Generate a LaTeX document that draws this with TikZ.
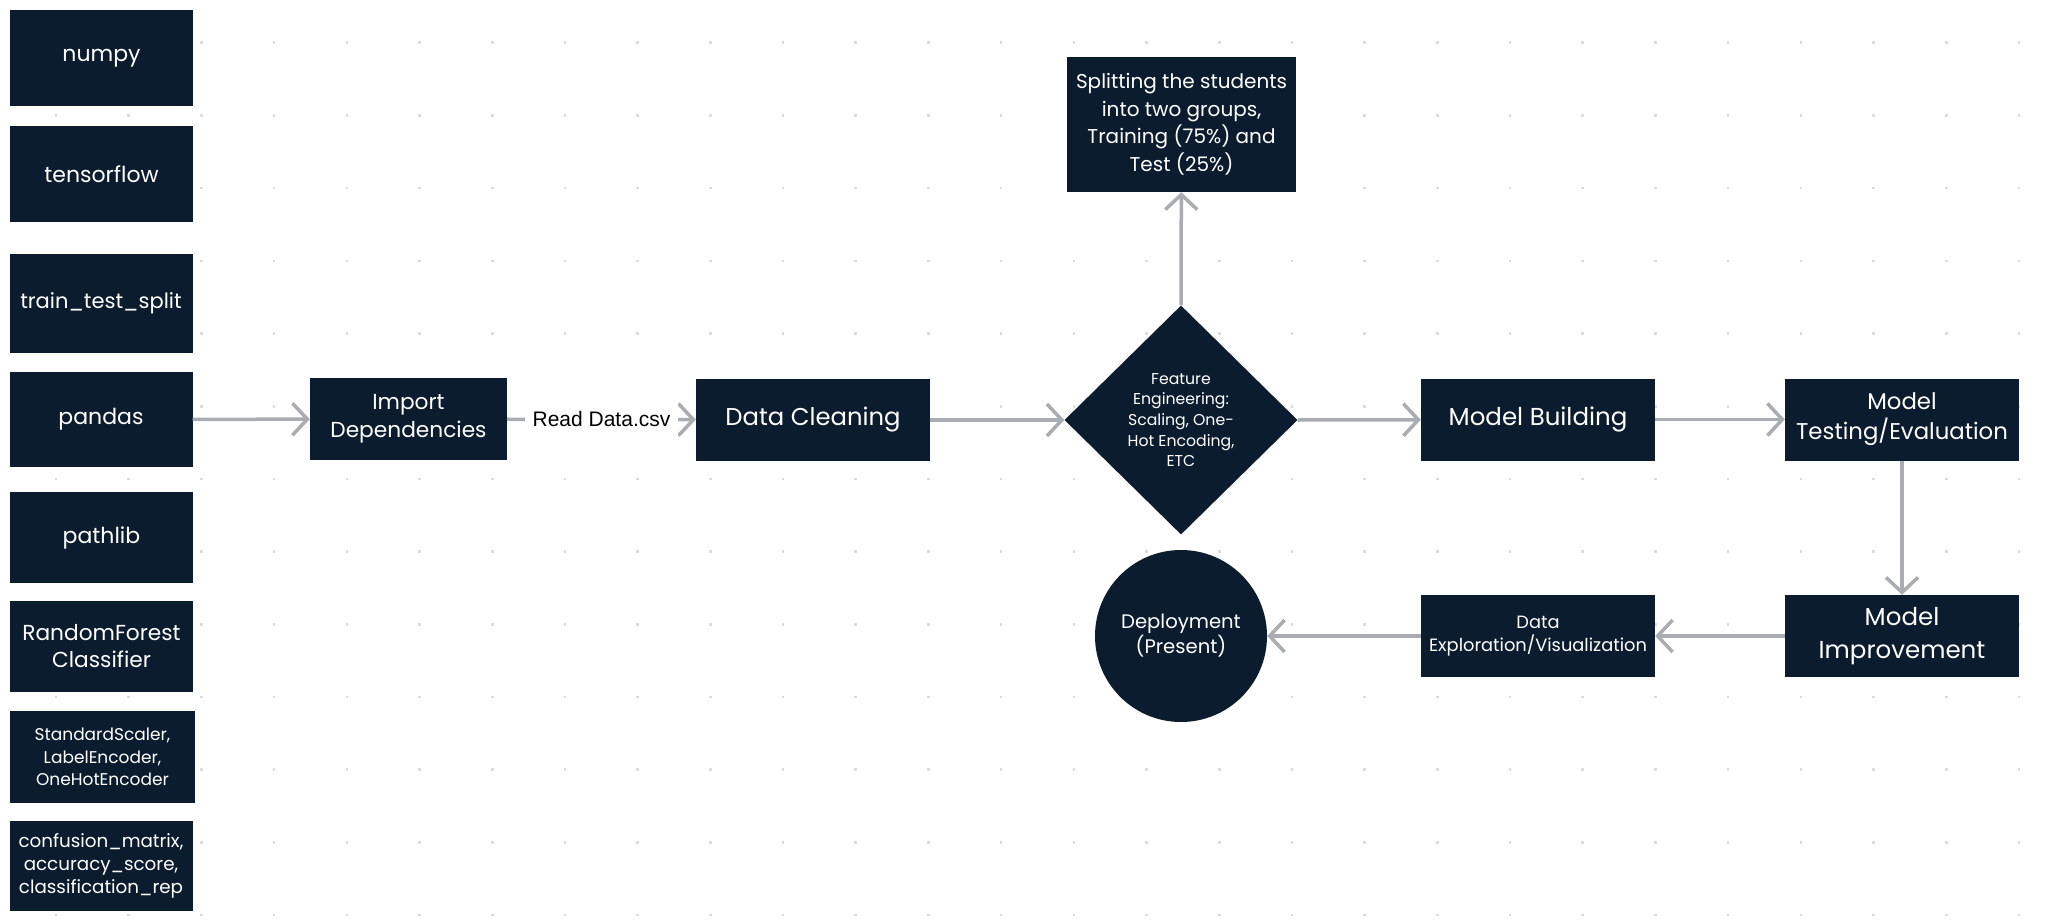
\documentclass[tikz,border=0pt]{standalone}
\usepackage{fontspec}
\setmainfont{Poppins}
\newfontfamily\arialfont{Liberation Sans}
\usetikzlibrary{arrows.meta,shapes.geometric}
\definecolor{boxfill}{HTML}{0B1C2F}
\definecolor{arrowgray}{HTML}{A9ADB1}
\definecolor{dotgray}{HTML}{DCDCDC}
\newcommand{\fs}[2]{\fontsize{#1}{#2}\selectfont}
\begin{document}
\begin{tikzpicture}[x=1pt,y=-1pt,
  box/.style={rectangle, fill=boxfill, text=white, align=center, inner sep=0pt},
  lib/.style={box, minimum width=183pt},
  flow/.style={box, minimum width=234pt, minimum height=82pt},
  conn/.style={draw=arrowgray, line width=3.5pt, -{Straight Barb[length=15pt,width=32pt]}},
]
\useasboundingbox (0,0) rectangle (2048,923);
\fill[white] (0,0) rectangle (2048,923);
\foreach \i in {0,...,27} {
  \foreach \j in {0,...,12} {
    \fill[dotgray] ({56+72.7*\i-1.3},{42.7+72.7*\j-1.3}) rectangle +(2.6,2.6);
  }
}
% library column
\node[lib, minimum height=96pt, font=\fs{22}{28}] (numpy) at (101.5,58) {numpy};
\node[lib, minimum height=96pt, font=\fs{22}{28}] (tf) at (101.5,174) {tensorflow};
\node[lib, minimum height=99pt, font=\fs{21}{27}] (tts) at (101,303.5) {train\_test\_split};
\node[lib, minimum height=95pt, font=\fs{22}{28}] (pandas) at (101,419.5) {pandas};
\node[lib, minimum height=91pt, font=\fs{22}{28}] (pathlib) at (101.5,537.5) {pathlib};
\node[lib, minimum height=91pt, font=\fs{21.7}{27}] (rf) at (101.5,646.5) {RandomForest\\Classifier};
\node[lib, minimum width=185pt, minimum height=92pt, font=\fs{17}{22.5}] (sk) at (102.5,757) {StandardScaler,\\LabelEncoder,\\OneHotEncoder};
\node[lib, minimum height=90pt, font=\fs{18.3}{23}] (metrics) at (101,866) {confusion\_matrix,\\accuracy\_score,\\classification\_rep};
% flow
\node[box, minimum width=197pt, minimum height=82pt, font=\fs{21.7}{28}] (imp) at (408.5,419) {Import\\Dependencies};
\node[flow, font=\fs{24.3}{30}] (dc) at (813,420) {Data Cleaning};
\node[diamond, fill=boxfill, minimum width=233pt, minimum height=229pt, inner sep=0pt] (fe) at (1181,420) {};
\node[text=white, align=center, font=\fs{15.7}{20.7}] (fetext) at (fe.center) {Feature\\Engineering:\\Scaling, One-\\Hot Encoding,\\ETC};
\node[box, minimum width=229pt, minimum height=135pt, font=\fs{20}{27.5}] (split) at (1181.5,124.5) {Splitting the students\\into two groups,\\Training (75\%) and\\Test (25\%)};
\node[flow, font=\fs{24.5}{30}] (mb) at (1538,419.5) {Model Building};
\node[flow, font=\fs{22.8}{30}] (mt) at (1902,419.5) {Model\\Testing/Evaluation};
\node[flow, font=\fs{24.5}{33}] (mi) at (1902,636) {Model\\Improvement};
\node[flow, font=\fs{17.8}{22.5}] (de) at (1538,636) {Data\\Exploration/Visualization};
\node[circle, fill=boxfill, text=white, align=center, minimum size=172pt, inner sep=0pt, font=\fs{19.6}{25}] (dep) at (1181,636) {Deployment\\(Present)};
% connectors
\draw[conn] (pandas) -- (imp);
\draw[conn] (imp) -- node[fill=white, inner sep=8pt, font=\arialfont\fs{21}{25}] (readlbl) {Read Data.csv} (dc);
\draw[conn] (dc) -- (fe);
\draw[conn] (fe.north) -- (split);
\draw[conn] (fe.east) -- (mb);
\draw[conn] (mb) -- (mt);
\draw[conn] (mt) -- (mi);
\draw[conn] (mi) -- (de);
\draw[conn] (de) -- (dep);
\end{tikzpicture}
\end{document}
